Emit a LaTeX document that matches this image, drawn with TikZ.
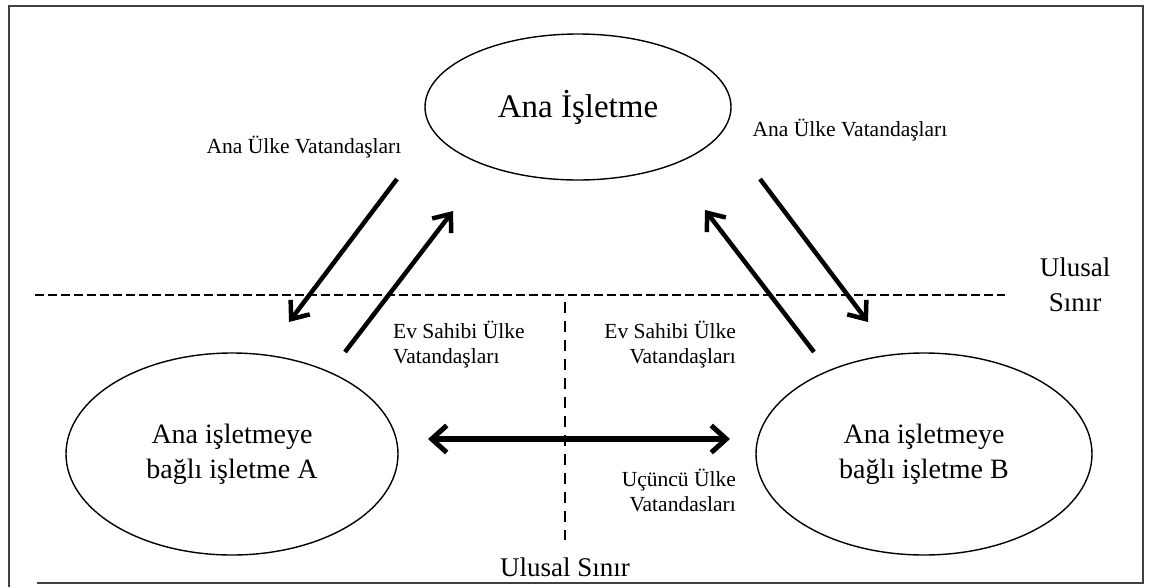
\documentclass[tikz,border=0pt]{standalone}
\usepackage{fontspec}
\setmainfont{Liberation Serif}
\usetikzlibrary{arrows.meta,shapes.geometric}
\begin{document}
\begin{tikzpicture}[x=1pt,y=-1pt,
  frame/.style={draw=black!75, line width=2.6pt},
  firm/.style={draw=black, line width=1.4pt, ellipse, inner sep=0pt, align=center},
  lbl/.style={inner sep=0pt, font=\fontsize{21.5}{25}\selectfont},
  border/.style={inner sep=0pt, font=\fontsize{27}{35}\selectfont, align=center},
  tip/.style={Straight Barb[length=15pt,width=24pt,line width=4.5pt]},
  flow/.style={line width=4.5pt, -{Straight Barb[length=15pt,width=24pt,line width=4.5pt]}},
  both/.style={line width=5.5pt, {Straight Barb[length=15pt,width=27pt,line width=5pt]}-{Straight Barb[length=15pt,width=27pt,line width=5pt]}},
  hdash/.style={line width=2.4pt, dash pattern=on 9pt off 4pt},
  vdash/.style={line width=2.2pt, dash pattern=on 11pt off 8pt}
]
\useasboundingbox (0,0) rectangle (1152,587);
\fill[white] (0,0) rectangle (1152,587);
% frame
\draw[frame] (9,587) -- (9,6) -- (1143,6) -- (1143,583) -- (37,583);

% firms
\node[firm, minimum width=306pt, minimum height=146pt, font=\fontsize{33}{38}\selectfont] (ana) at (578,107) {Ana İşletme};
\node[firm, minimum width=332pt, minimum height=202pt, font=\fontsize{28}{35}\selectfont] (fa) at (232,454) {Ana işletmeye\\bağlı işletme A};
\node[firm, minimum width=336pt, minimum height=202pt, font=\fontsize{28}{35}\selectfont] (fb) at (924,454) {Ana işletmeye\\bağlı işletme B};

% borders
\coordinate (hL) at (35,295);
\coordinate (hR) at (1005,295);
\draw[hdash] (hL) -- (hR);
\coordinate (vT) at (565,302);
\coordinate (vB) at (565,540);
\draw[vdash] (vT) -- (vB);
\node[border] (ulR) at (1075,285) {Ulusal\\Sınır};
\node[border] (ulB) at (565,567) {Ulusal Sınır};

% arrows
\coordinate (a1s) at (397,179); \coordinate (a1e) at (289,322);
\coordinate (a2s) at (345,352); \coordinate (a2e) at (453,211);
\coordinate (a3s) at (814,352); \coordinate (a3e) at (705,210);
\coordinate (a4s) at (760,179); \coordinate (a4e) at (868,322);
\coordinate (hs) at (428,439); \coordinate (he) at (730,439);
\draw[flow] (a1s) -- (a1e);
\draw[flow] (a2s) -- (a2e);
\draw[flow] (a3s) -- (a3e);
\draw[flow] (a4s) -- (a4e);
\draw[both] (hs) -- (he);

% labels
\node[lbl] (l1) at (304,147) {Ana Ülke Vatandaşları};
\node[lbl] (l2) at (850,130) {Ana Ülke Vatandaşları};
\node[lbl, anchor=west, align=left] (l3) at (393,345) {Ev Sahibi Ülke\\Vatandaşları};
\node[lbl, anchor=east, align=right] (l4) at (736,345) {Ev Sahibi Ülke\\Vatandaşları};
\node[lbl, anchor=east, align=right] (l5) at (736,490) {Uçüncü Ülke\\Vatandasları};
\end{tikzpicture}
\end{document}
